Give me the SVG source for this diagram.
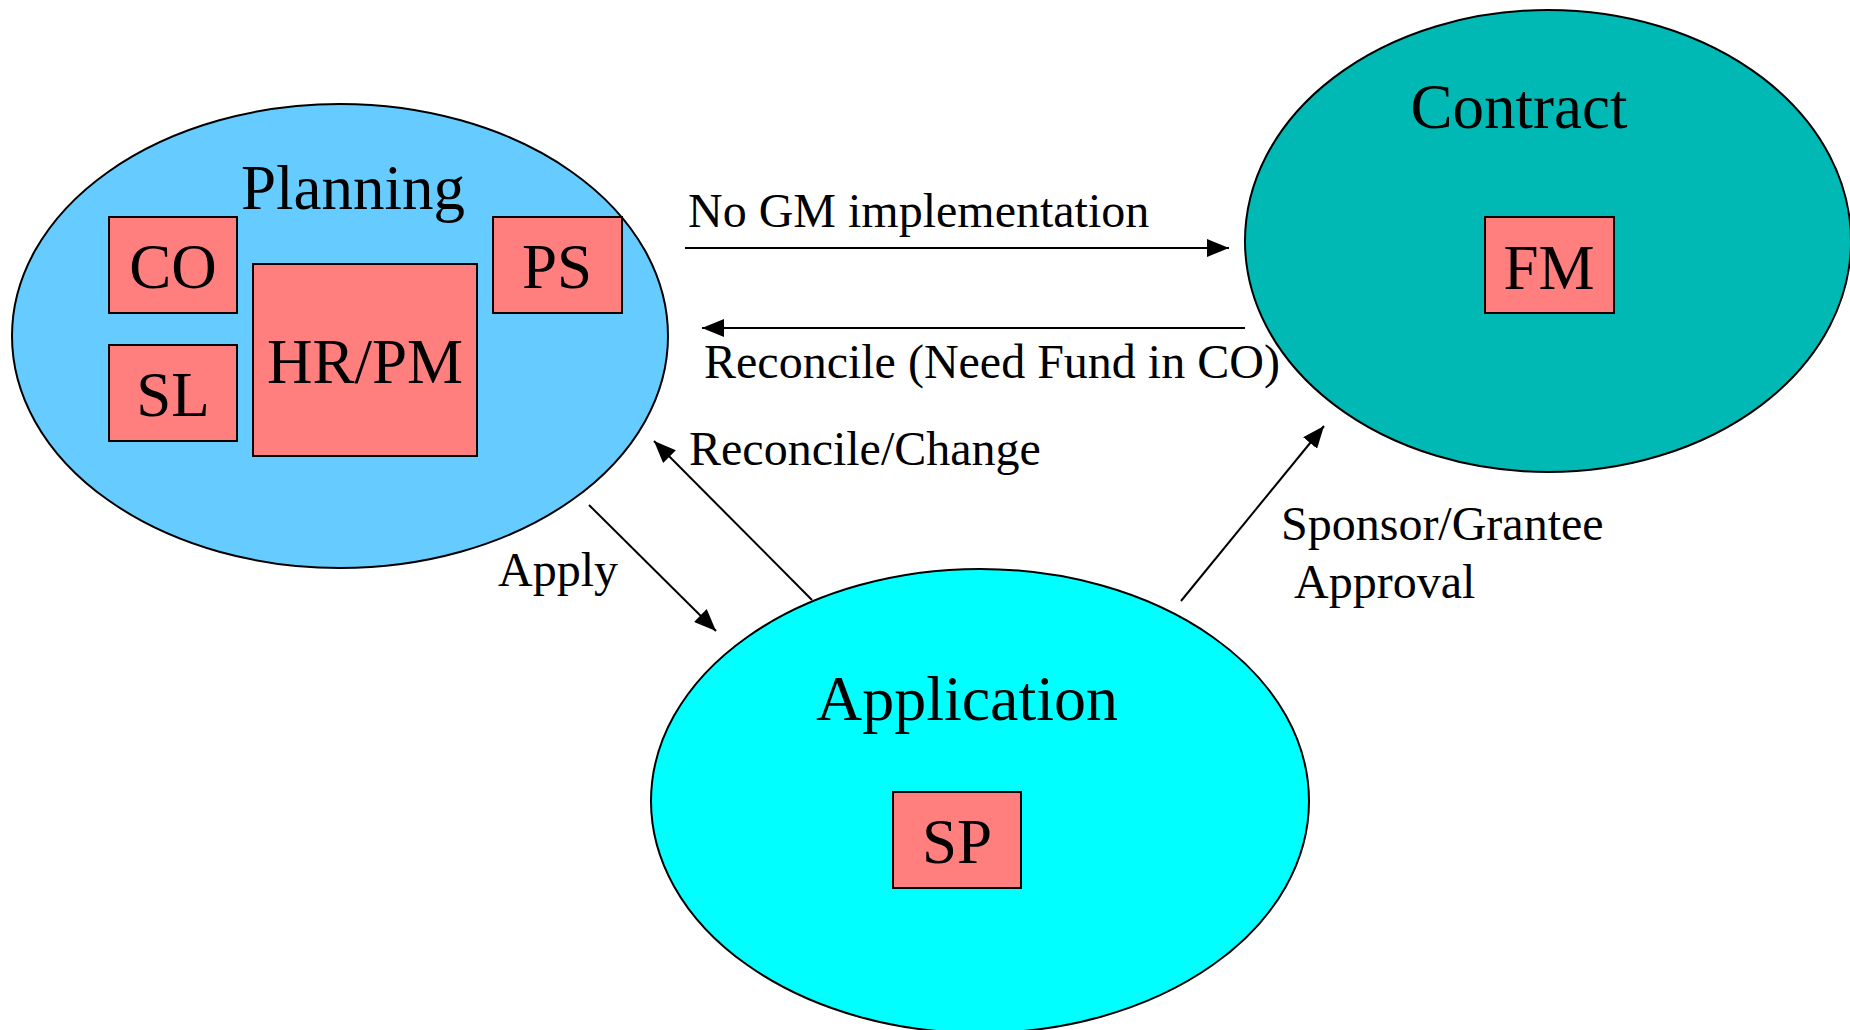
<svg xmlns="http://www.w3.org/2000/svg" width="1850" height="1030" viewBox="0 0 1850 1030">
<style>
text{font-family:"Liberation Serif","Times New Roman",serif;fill:#000}
.ell{stroke:#000;stroke-width:2}
.box{fill:#FF7F7F;stroke:#000;stroke-width:2}
.big{font-size:63px;text-anchor:middle}
.lbl{font-size:48px}
.conn line{stroke:#000;stroke-width:2;marker-end:url(#ah)}
</style>
<defs>
<marker id="ah" viewBox="0 0 22 18" refX="22" refY="9" markerWidth="22" markerHeight="18" markerUnits="userSpaceOnUse" orient="auto">
<path d="M0,0 L22,9 L0,18 Z" fill="#000"/>
</marker>
</defs>
<rect width="1850" height="1030" fill="#fff"/>
<g id="planning">
<ellipse class="ell" cx="340" cy="336" rx="328" ry="232" fill="#66CCFF"/>
<text class="big" x="353" y="209">Planning</text>
</g>
<g id="contract">
<ellipse class="ell" cx="1548" cy="241" rx="303" ry="231" fill="#00B9B5"/>
<text class="big" x="1519" y="128">Contract</text>
</g>
<g id="application">
<ellipse class="ell" cx="980" cy="801" rx="329" ry="232" fill="#00FFFF"/>
<text class="big" x="967" y="720" style="font-size:64px">Application</text>
</g>
<g id="co"><rect class="box" x="109" y="217" width="128" height="96"/><text class="big" x="173" y="288">CO</text></g>
<g id="sl"><rect class="box" x="109" y="345" width="128" height="96"/><text class="big" x="173" y="416">SL</text></g>
<g id="hrpm"><rect class="box" x="253" y="264" width="224" height="192"/><text class="big" x="365" y="383">HR/PM</text></g>
<g id="ps"><rect class="box" x="493" y="217" width="129" height="96"/><text class="big" x="557" y="288">PS</text></g>
<g id="fm"><rect class="box" x="1485" y="217" width="129" height="96"/><text class="big" x="1549" y="289">FM</text></g>
<g id="sp"><rect class="box" x="893" y="792" width="128" height="96"/><text class="big" x="957" y="863">SP</text></g>
<g id="connectors" class="conn">
<line x1="685" y1="248" x2="1229" y2="248"/>
<line x1="1245" y1="328" x2="702" y2="328"/>
<line x1="812" y1="600" x2="654" y2="441"/>
<line x1="589" y1="505" x2="716" y2="631"/>
<line x1="1181" y1="601" x2="1324" y2="426"/>
</g>
<g id="labels">
<text class="lbl" x="688" y="227">No GM implementation</text>
<text class="lbl" x="704" y="378">Reconcile (Need Fund in CO)</text>
<text class="lbl" x="689" y="465">Reconcile/Change</text>
<text class="lbl" x="498" y="586">Apply</text>
<text class="lbl" x="1281" y="540">Sponsor/Grantee</text>
<text class="lbl" x="1294" y="598">Approval</text>
</g>
</svg>
